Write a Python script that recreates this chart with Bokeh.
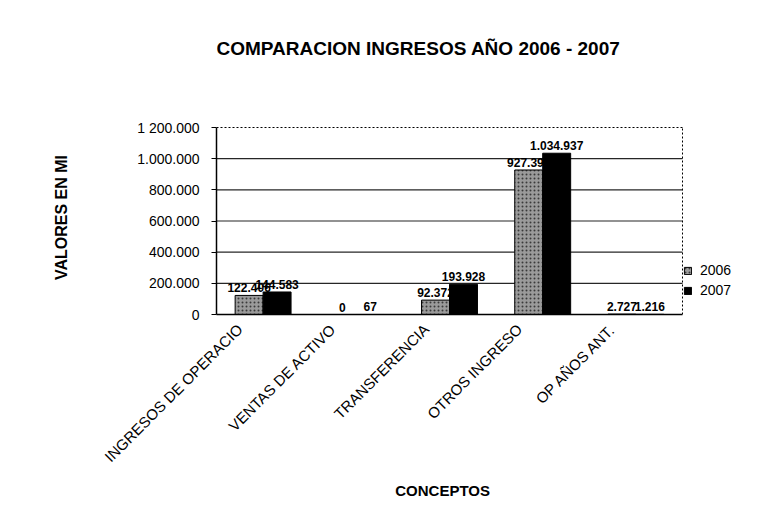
import math
from bokeh.plotting import figure
from bokeh.models import (ColumnDataSource, FixedTicker, Legend, LegendItem,
                          LabelSet, Label, Range1d)
from bokeh.core.properties import value
from bokeh.transform import dodge
from bokeh.embed import file_html
from bokeh.resources import INLINE

# ---- data ----
categories = ["INGRESOS DE OPERACIO", "VENTAS DE ACTIVO", "TRANSFERENCIA",
              "OTROS INGRESO", "OP AÑOS ANT."]
v2006 = [122406, 0, 92372, 927396, 2727]
v2007 = [144583, 67, 193928, 1034937, 1216]
y_ticks = [0, 200000, 400000, 600000, 800000, 1000000, 1200000]
y_tick_labels = ["0", "200.000", "400.000", "600.000", "800.000", "1.000.000", "1 200.000"]
series_names = ["2006", "2007"]
title_text = "COMPARACION INGRESOS AÑO 2006 - 2007"
y_title = "VALORES EN MI"
x_title = "CONCEPTOS"

FONT = "Liberation Sans"
NBSP = "\u00a0"

# ---- layout (pixels) ----
W, H = 760, 505
FRAME_L, FRAME_B = 216, 314          # frame left / bottom in canvas px
PLOT_TOP, PLOT_R = 127, 682          # where the chart box ends
LABEL_SHIFT = -0.25                  # category labels end a little left of the bars


def fmt(v):
    return f"{v:,}".replace(",", ".")


n = len(categories)
xs = list(range(n))
x_lo, x_hi = -0.5, n - 0.5
y_hi = y_ticks[-1]
y_max = y_hi * FRAME_B / (FRAME_B - PLOT_TOP)
x_max = x_lo + (x_hi - x_lo) * (W - FRAME_L) / (PLOT_R - FRAME_L)

src = ColumnDataSource(dict(
    x=xs, v2006=v2006, v2007=v2007,
    l2006=[fmt(v) for v in v2006],
    l2007=[fmt(v) for v in v2007],
))

p = figure(x_range=Range1d(x_lo, x_max), y_range=Range1d(0, y_max),
           width=W, height=H, output_backend="svg", toolbar_location=None,
           min_border_left=FRAME_L, min_border_right=0, min_border_top=0,
           min_border_bottom=H - FRAME_B)
p.background_fill_color = "white"
p.border_fill_color = "white"
p.outline_line_color = None

# grid lines and dashed top/right border of the chart box
grid_y = y_ticks[1:-1]
p.segment(x0=[x_lo] * len(grid_y), x1=[x_hi] * len(grid_y), y0=grid_y, y1=grid_y,
          line_color="black", line_width=1.2, line_alpha=0.85)
p.segment(x0=[x_lo, x_hi], x1=[x_hi, x_hi], y0=[y_hi, 0], y1=[y_hi, y_hi],
          line_color="black", line_width=1, line_dash="2 2")

r1 = p.vbar(x=dodge("x", -0.15), top="v2006", width=0.3, source=src,
            fill_color="#9a9a9a", line_color="black", line_width=1,
            hatch_pattern="dot", hatch_color="#3a3a3a", hatch_scale=4, hatch_weight=1)
r2 = p.vbar(x=dodge("x", 0.15), top="v2007", width=0.3, source=src,
            fill_color="black", line_color="black", line_width=1)

for col, top, off in (("l2006", "v2006", -0.15), ("l2007", "v2007", 0.15)):
    p.add_layout(LabelSet(x=dodge("x", off), y=top, text=col, source=src,
                          text_align="center", text_baseline="bottom", y_offset=3,
                          text_font=value(FONT), text_font_size="12px",
                          text_font_style="bold", text_color="black"))

# axes
p.yaxis.bounds = (0, y_hi)
p.yaxis.ticker = FixedTicker(ticks=y_ticks)
p.yaxis.major_label_overrides = {t: s for t, s in zip(y_ticks, y_tick_labels)}
p.yaxis.minor_tick_line_color = None
p.yaxis.major_tick_out = 5
p.yaxis.major_tick_in = 0
p.yaxis.axis_line_color = "black"
p.yaxis.axis_line_width = 1.5
p.yaxis.major_label_text_font = FONT
p.yaxis.major_label_text_font_size = "14px"
p.yaxis.major_label_text_color = "black"
p.yaxis.major_label_standoff = 12
# axis titles are centred on the whole frame; trailing no-break spaces move them
p.yaxis.axis_label = y_title + NBSP * 27
p.yaxis.axis_label_text_font = FONT
p.yaxis.axis_label_text_font_size = "16px"
p.yaxis.axis_label_text_font_style = "bold"
p.yaxis.axis_label_text_color = "black"
p.yaxis.axis_label_standoff = 64

tick_pos = [i + LABEL_SHIFT for i in xs]
p.xaxis.bounds = (x_lo, x_hi)
p.xaxis.ticker = FixedTicker(ticks=tick_pos)
p.xaxis.major_label_overrides = {t: c for t, c in zip(tick_pos, categories)}
p.xaxis.minor_tick_line_color = None
p.xaxis.major_label_orientation = math.pi / 4
p.xaxis.major_tick_line_color = None
p.xaxis.axis_line_color = "black"
p.xaxis.axis_line_width = 1.5
p.xaxis.major_label_text_font = FONT
p.xaxis.major_label_text_font_size = "15px"
p.xaxis.major_label_text_color = "black"
p.xaxis.major_label_standoff = 6
p.xaxis.axis_label = x_title + NBSP * 22
p.xaxis.axis_label_text_font = FONT
p.xaxis.axis_label_text_font_size = "15px"
p.xaxis.axis_label_text_font_style = "bold"
p.xaxis.axis_label_text_color = "black"
p.xaxis.axis_label_standoff = 8

p.xgrid.grid_line_color = None
p.ygrid.grid_line_color = None

# title (inside the extended frame)
p.add_layout(Label(x=0, y=FRAME_B - 48, x_units="screen", y_units="screen",
                   text=title_text, text_align="left", text_baseline="middle",
                   text_font=FONT, text_font_size="19px", text_font_style="bold",
                   text_color="black"))

legend = Legend(items=[LegendItem(label=series_names[0], renderers=[r1]),
                       LegendItem(label=series_names[1], renderers=[r2])],
                location=(PLOT_R + 1 - FRAME_L, 16), background_fill_alpha=0,
                border_line_color=None,
                label_text_font=FONT, label_text_font_size="14px", label_text_color="black",
                glyph_width=9, glyph_height=9, spacing=4, padding=0, margin=0,
                label_standoff=8)
p.add_layout(legend)

open("out.html", "w").write(file_html(p, INLINE))
